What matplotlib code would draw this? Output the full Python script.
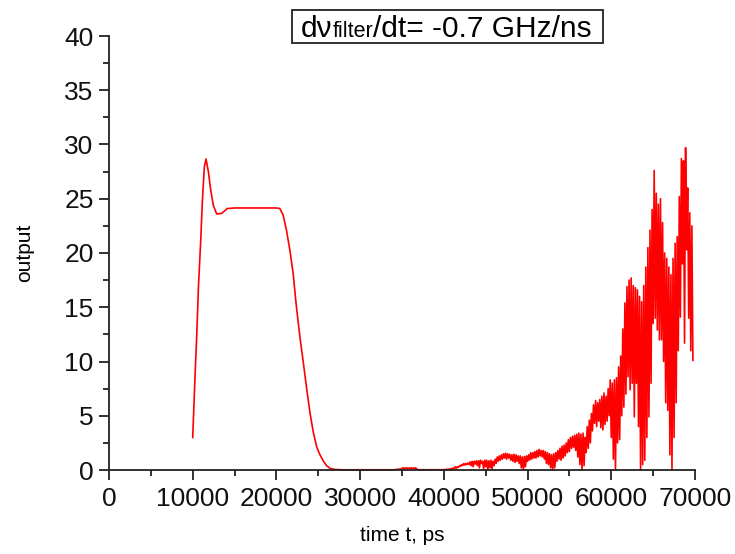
import numpy as np
import matplotlib
matplotlib.use("Agg")
import matplotlib.pyplot as plt
from matplotlib.transforms import IdentityTransform
from matplotlib.patches import Rectangle
from matplotlib.ticker import MultipleLocator

plt.rcParams['font.family'] = ['Liberation Sans', 'DejaVu Sans']

# ---- data ----
t_smooth = [10000, 10290, 10490, 10680, 10960, 11150, 11390, 11590, 11870, 12150,
            12460, 12860, 13460, 14130, 15000, 17000, 19000, 20000, 20400, 20800,
            21200, 21600, 22000, 22300, 22600, 22900, 23230, 23630, 24020, 24400,
            24820, 25200, 25620, 26000, 26400, 27000, 28000, 30000, 32000, 34000,
            34875]
y_smooth = [3.0, 8.9, 12.6, 16.8, 21.2, 24.7, 27.95, 28.66, 27.5, 25.8,
            24.4, 23.6, 23.65, 24.1, 24.15, 24.15, 24.15, 24.15, 24.1, 23.5,
            22.1, 20.3, 18.1, 15.7, 13.6, 11.7, 9.8, 7.4, 5.2, 3.5,
            2.1, 1.4, 0.8, 0.4, 0.15, 0.05, 0.02, 0.02, 0.02, 0.02,
            0.1]

noise_start = 35000
noise_step = 125
y_noise = [
    0.15, 0.2, 0.1, 0.2, 0.15, 0.2, 0.1, 0.2,
    0.15, 0.2, 0.1, 0.2, 0.15, 0.2, 0.1, 0.05,
    0.02, 0.03, 0.02, 0.02, 0.03, 0.02, 0.02, 0.03,
    0.02, 0.02, 0.03, 0.02, 0.02, 0.03, 0.02, 0.02,
    0.03, 0.02, 0.02, 0.03, 0.02, 0.02, 0.03, 0.02,
    0.02, 0.05, 0.02, 0.08, 0.03, 0.1, 0.05, 0.15,
    0.05, 0.2, 0.1, 0.3, 0.15, 0.3, 0.25, 0.4,
    0.35, 0.5, 0.4, 0.6, 0.45, 0.6, 0.5, 0.65,
    0.5, 0.75, 0.4, 0.8, 0.3, 0.8, 0.55, 0.85,
    0.4, 0.85, 0.2, 0.9, 0.6, 0.8, 0.1, 0.9,
    0.3, 0.9, 0.0, 0.85, 0.2, 0.9, 0.1, 0.8,
    0.4, 1.0, 0.6, 1.2, 0.8, 1.3, 0.9, 1.4,
    1.0, 1.5, 1.1, 1.55, 1.0, 1.5, 1.1, 1.45,
    0.9, 1.4, 0.8, 1.45, 0.7, 1.4, 0.8, 1.3,
    0.6, 1.3, 0.2, 1.2, 0.0, 1.25, 0.3, 1.3,
    0.8, 1.4, 0.9, 1.6, 1.0, 1.6, 1.1, 1.7,
    1.1, 1.8, 1.2, 1.9, 1.3, 1.8, 1.2, 1.8,
    1.0, 1.7, 0.6, 1.6, 0.5, 1.5, 0.2, 1.4,
    0.0, 1.5, 0.2, 1.6, 0.8, 1.8, 1.0, 2.0,
    0.9, 2.2, 1.1, 2.3, 1.3, 2.5, 1.6, 2.8,
    1.7, 3.0, 2.0, 3.1, 2.1, 3.2, 1.8, 3.3,
    1.2, 3.4, 0.5, 3.3, 0.0, 3.4, 0.4, 3.0,
    1.6, 4.0, 2.0, 4.6, 2.5, 5.2, 3.6, 6.0,
    4.3, 6.4, 4.0, 6.2, 4.5, 6.5, 3.9, 6.8,
    3.7, 7.1, 4.2, 6.8, 4.5, 7.5, 5.0, 8.3,
    3.0, 8.0, 1.0, 8.3, 0.0, 8.5, 2.5, 9.5,
    2.8, 10.5, 5.0, 13.0, 5.8, 15.4, 7.0, 16.9,
    8.6, 17.5, 7.4, 17.7, 8.0, 17.0, 4.9, 16.8,
    8.0, 16.6, 4.0, 16.0, 0.0, 15.5, 0.5, 17.0,
    0.9, 18.7, 3.0, 20.5, 4.9, 22.1, 8.0, 24.0,
    13.5, 27.6, 14.0, 25.5, 12.9, 24.5, 12.0, 25.0,
    12.0, 22.8, 10.0, 20.0, 6.2, 19.5, 5.5, 18.7,
    1.4, 18.0, 0.0, 19.5, 3.0, 20.9, 6.2, 21.5,
    11.0, 25.2, 14.1, 28.7, 19.0, 28.5, 11.7, 29.7,
    20.3, 26.0, 14.0, 23.7, 11.0, 22.5, 10.1,
]
t_noise = noise_start + noise_step * np.arange(len(y_noise))

t_all = np.concatenate([t_smooth, t_noise])
y_all = np.concatenate([y_smooth, y_noise])

x_ticks = [0, 10000, 20000, 30000, 40000, 50000, 60000, 70000]
y_ticks = [0, 5, 10, 15, 20, 25, 30, 35, 40]

# ---- figure ----
W, H = 735, 554
fig = plt.figure(figsize=(W / 100, H / 100), dpi=100)
ax = fig.add_axes([109 / W, (H - 470) / H, (695 - 109) / W, (470 - 36) / H])

ax.plot(t_all, y_all, color='#ff0000', lw=1.2, clip_on=False)

ax.set_xlim(0, 70000)
ax.set_ylim(0, 40)
ax.set_xticks(x_ticks)
ax.set_yticks(y_ticks)
ax.xaxis.set_minor_locator(MultipleLocator(5000))
ax.yaxis.set_minor_locator(MultipleLocator(2.5))
for s in ['top', 'right']:
    ax.spines[s].set_visible(False)
for s in ['left', 'bottom']:
    ax.spines[s].set_linewidth(1.3)
    ax.spines[s].set_color('#222222')
ax.tick_params(which='major', direction='out', length=7, width=1.3,
               labelsize=19, color='#222222', labelcolor='#111111')
ax.tick_params(which='minor', direction='out', length=4, width=1.3, color='#222222')
ax.tick_params(axis='x', which='major', pad=5)
ax.tick_params(axis='y', which='major', pad=4)

ax.set_xlabel('time t, ps', fontsize=15, labelpad=11)
ax.set_ylabel('output', fontsize=15, labelpad=22)

# ---- annotation box with mixed font sizes ----
fig.canvas.draw()
r = fig.canvas.get_renderer()
base_y = H - 37
x = 301
parts = [('dν', 21.5), ('filter', 15.5), ('/dt= -0.7 GHz/ns', 21.5)]
for s, fs in parts:
    t = fig.text(x, base_y, s, fontsize=fs, transform=IdentityTransform(),
                 va='baseline', ha='left', color='black')
    bb = t.get_window_extent(renderer=r)
    x = bb.x1
fig.patches.append(Rectangle((292, H - 43), 603 - 292, 33, transform=IdentityTransform(),
                             fill=False, edgecolor='#222222', lw=1.3, figure=fig))

fig.savefig('out.png', dpi=100)
